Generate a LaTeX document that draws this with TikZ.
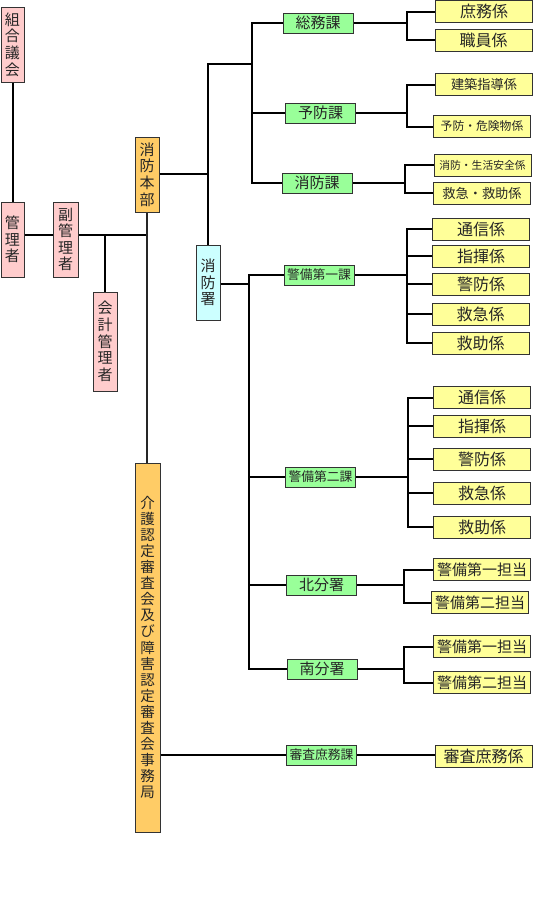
\documentclass[tikz,border=0pt]{standalone}
\usepackage{fontspec}
\setmainfont{Noto Sans CJK JP}
\definecolor{cpink}{HTML}{FFCCCC}
\definecolor{corange}{HTML}{FFCC66}
\definecolor{ccyan}{HTML}{CCFFFF}
\definecolor{cgreen}{HTML}{99FF99}
\definecolor{cyellow}{HTML}{FFFF99}
\definecolor{cborder}{HTML}{333333}
\tikzset{
  box/.style={draw=cborder, line width=1pt, inner sep=0pt, align=center, text=black!85},
  vbox/.style={box, font=\fontsize{15}{16.6}\selectfont},
  pinkbox/.style={vbox, fill=cpink},
  orangebox/.style={vbox, fill=corange},
  cyanbox/.style={vbox, fill=ccyan},
  greenbox/.style={box, fill=cgreen, minimum width=70, minimum height=20},
  yellowbox/.style={box, fill=cyellow, minimum width=97, minimum height=22},
  conn/.style={line width=2pt, black},
  thinconn/.style={line width=1.1pt, black!85},
}
\begin{document}
\begin{tikzpicture}[x=1pt,y=-1pt]
\useasboundingbox (0,0) rectangle (533,913);
% left vertical boxes
\node[pinkbox, minimum width=23, minimum height=75] (kumiai) at (12.5,44.5) {組\\合\\議\\会};
\node[pinkbox, minimum width=23, minimum height=75] (kanri) at (12.5,239.5) {管\\理\\者};
\node[pinkbox, minimum width=25, minimum height=75] (fuku) at (65.5,239.5) {副\\管\\理\\者};
\node[pinkbox, minimum width=24, minimum height=99] (kaikei) at (105,341.5) {会\\計\\管\\理\\者};
\node[orangebox, minimum width=24, minimum height=75] (honbu) at (147,174.5) {消\\防\\本\\部};
\node[cyanbox, minimum width=24, minimum height=75] (shobosho) at (208,282.5) {消\\防\\署};
\node[box, fill=corange, font=\fontsize{14.5}{16.1}\selectfont, minimum width=25, minimum height=369] (kaigo) at (147.5,647.5)
  {介\\護\\認\\定\\審\\査\\会\\及\\び\\障\\害\\認\\定\\審\\査\\会\\事\\務\\局};
% green boxes
\node[greenbox, font=\fontsize{15}{16}\selectfont] (somu) at (318,23) {総務課};
\node[greenbox, font=\fontsize{15}{16}\selectfont] (yobo) at (320.5,113) {予防課};
\node[greenbox, font=\fontsize{15}{16}\selectfont] (shoboka) at (317,183) {消防課};
\node[greenbox, font=\fontsize{12.8}{14}\selectfont] (keibi1) at (319,275) {警備第一課};
\node[greenbox, font=\fontsize{12.8}{14}\selectfont] (keibi2) at (320.5,477) {警備第二課};
\node[greenbox, font=\fontsize{15}{16}\selectfont] (kita) at (321.5,585) {北分署};
\node[greenbox, font=\fontsize{15}{16}\selectfont] (minami) at (322,669) {南分署};
\node[greenbox, font=\fontsize{12.8}{14}\selectfont] (shinsa) at (321.5,755) {審査庶務課};
% yellow boxes
\node[yellowbox, font=\fontsize{16}{17}\selectfont] (y1) at (484,11.5) {庶務係};
\node[yellowbox, font=\fontsize{16}{17}\selectfont] (y2) at (483.5,40) {職員係};
\node[yellowbox, font=\fontsize{13.2}{14}\selectfont] (y3) at (484,84.5) {建築指導係};
\node[yellowbox, font=\fontsize{11.8}{13}\selectfont] (y4) at (482,126.5) {予防・危険物係};
\node[yellowbox, font=\fontsize{10.8}{12}\selectfont] (y5) at (482.5,165) {消防・生活安全係};
\node[yellowbox, font=\fontsize{13.2}{14}\selectfont] (y6) at (482,193) {救急・救助係};
\node[yellowbox, font=\fontsize{16}{17}\selectfont] (k1a) at (481,229) {通信係};
\node[yellowbox, font=\fontsize{16}{17}\selectfont] (k1b) at (481,256) {指揮係};
\node[yellowbox, font=\fontsize{16}{17}\selectfont] (k1c) at (481,284) {警防係};
\node[yellowbox, font=\fontsize{16}{17}\selectfont] (k1d) at (480.5,314) {救急係};
\node[yellowbox, font=\fontsize{16}{17}\selectfont] (k1e) at (480.5,343) {救助係};
\node[yellowbox, font=\fontsize{16}{17}\selectfont] (k2a) at (482,397.5) {通信係};
\node[yellowbox, font=\fontsize{16}{17}\selectfont] (k2b) at (482,426) {指揮係};
\node[yellowbox, font=\fontsize{16}{17}\selectfont] (k2c) at (482,459) {警防係};
\node[yellowbox, font=\fontsize{16}{17}\selectfont] (k2d) at (482,493) {救急係};
\node[yellowbox, font=\fontsize{16}{17}\selectfont] (k2e) at (482,527) {救助係};
\node[yellowbox, font=\fontsize{15}{16}\selectfont] (kt1) at (482,569.5) {警備第一担当};
\node[yellowbox, font=\fontsize{15}{16}\selectfont] (kt2) at (480,602.5) {警備第二担当};
\node[yellowbox, font=\fontsize{15}{16}\selectfont] (mn1) at (482,646.5) {警備第一担当};
\node[yellowbox, font=\fontsize{15}{16}\selectfont] (mn2) at (482,682.5) {警備第二担当};
\node[yellowbox, font=\fontsize{16}{17}\selectfont] (sk) at (483.5,756) {審査庶務係};
% coordinates
\coordinate (j1) at (146,235);
\coordinate (j2) at (208,173.5);
\coordinate (v1) at (252,64);
\coordinate (v2) at (249,284);
\coordinate (b1) at (407,23);
\coordinate (b2) at (407,113);
\coordinate (b3) at (405,183);
\coordinate (b4) at (407,275);
\coordinate (b5) at (408,477);
\coordinate (b6) at (404,585);
\coordinate (b7) at (404,669);
% left connectors
\draw[conn] (kumiai.south) -- (kanri.north);
\draw[conn] (kanri.east |- j1) -- (fuku.west |- j1);
\draw[conn] (fuku.east |- j1) -- (j1);
\draw[conn] (kaikei.north) -- (kaikei.north |- j1);
\draw[thinconn] (honbu.south) -- (honbu.south |- kaigo.north);
\draw[conn] (honbu.east |- j2) -- (j2);
\draw[conn] (shobosho.north) -- (shobosho.north |- v1) -- (v1);
\draw[conn] (somu.west) -| (v1) |- (shoboka.west);
\draw[conn] (yobo.west) -- (yobo.west -| v1);
\draw[conn] (shobosho.east |- v2) -- (v2);
\draw[conn] (keibi1.west) -| (v2) |- (minami.west);
\draw[conn] (keibi2.west) -- (keibi2.west -| v2);
\draw[conn] (kita.west) -- (kita.west -| v2);
\draw[conn] (kaigo.east |- shinsa.west) -- (shinsa.west);
% right connectors
\draw[conn] (somu.east) -- (b1);
\draw[conn] (y1.west) -| (b1) |- (y2.west);
\draw[conn] (yobo.east) -- (b2);
\draw[conn] (y3.west) -| (b2) |- (y4.west);
\draw[conn] (shoboka.east) -- (b3);
\draw[conn] (y5.west) -| (b3) |- (y6.west);
\draw[conn] (keibi1.east) -- (b4);
\draw[conn] (k1a.west) -| (b4) |- (k1e.west);
\draw[conn] (k1b.west) -- (k1b.west -| b4);
\draw[conn] (k1c.west) -- (k1c.west -| b4);
\draw[conn] (k1d.west) -- (k1d.west -| b4);
\draw[conn] (keibi2.east) -- (b5);
\draw[conn] (k2a.west) -| (b5) |- (k2e.west);
\draw[conn] (k2b.west) -- (k2b.west -| b5);
\draw[conn] (k2c.west) -- (k2c.west -| b5);
\draw[conn] (k2d.west) -- (k2d.west -| b5);
\draw[conn] (kita.east) -- (b6);
\draw[conn] (kt1.west) -| (b6) |- (kt2.west);
\draw[conn] (minami.east) -- (b7);
\draw[conn] (mn1.west) -| (b7) |- (mn2.west);
\draw[conn] (shinsa.east) -- (shinsa.east -| sk.west);
\end{tikzpicture}
\end{document}
